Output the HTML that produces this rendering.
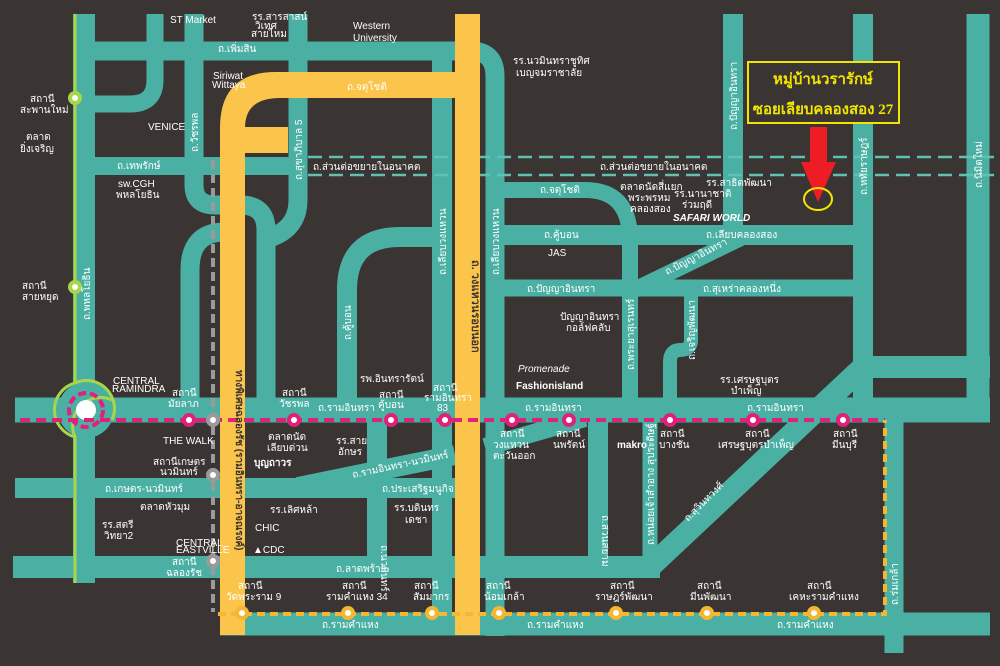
<!DOCTYPE html>
<html><head><meta charset="utf-8"><style>
html,body{margin:0;padding:0;background:#3a3432}
svg{display:block}
text{font-family:"Liberation Sans","Noto Sans CJK SC",sans-serif;fill:#fff;font-size:10px}
.v{writing-mode:initial}
</style></head><body>
<svg width="1000" height="666" viewBox="0 0 1000 666" xmlns="http://www.w3.org/2000/svg">
<rect width="1000" height="666" fill="#3a3432"/>
<g fill="none" stroke="#4bb0a4" stroke-linejoin="round">
 <!-- Phahon -->
 <line x1="84" y1="14" x2="84" y2="583" stroke-width="22"/>
 <!-- top left box -->
 <path d="M155 14 V80 Q155 104 130 104 H84" stroke-width="17"/>
 <!-- Phoemsin -->
 <path d="M95 51 H470 Q495 51 495 76 V636" stroke-width="19"/>
 <!-- Watcharapol -->
 <path d="M194 14 V185 Q194 205 215 205 H240 Q266 205 266 230 V410" stroke-width="19"/>
 <path d="M190 410 V270 Q190 232 225 232" stroke-width="19"/>
 <!-- Sukhapiban 5 -->
 <path d="M298 14 V200 Q298 232 262 240" stroke-width="19"/>
 <!-- Thepharak -->
 <line x1="90" y1="166" x2="298" y2="166" stroke-width="18"/>
 <!-- Liab wongwaen left -->
 <line x1="442" y1="60" x2="442" y2="634" stroke-width="20"/>
 <!-- Khubon curve -->
 <path d="M347 410 V290 Q347 237 400 237 H442" stroke-width="20"/>
 <!-- Ramintra -->
 <line x1="15" y1="410" x2="990" y2="410" stroke-width="25"/>
 <!-- Kaset-Nawamin -->
 <line x1="15" y1="488" x2="480" y2="488" stroke-width="20"/>
 <!-- Ladprao -->
 <line x1="13" y1="567" x2="660" y2="567" stroke-width="22"/>
 <!-- Suwinthawong diagonal -->
 <path d="M650 567 L863 367 H990" stroke-width="22"/>
 <!-- Ramkhamhaeng -->
 <line x1="220" y1="624" x2="990" y2="624" stroke-width="23"/>
 <!-- Romklao -->
 <line x1="894" y1="410" x2="894" y2="653" stroke-width="19"/>
 <!-- Nawamin vertical -->
 <line x1="377" y1="410" x2="377" y2="567" stroke-width="20"/>
 <!-- Ramintra-Nawamin diagonal -->
 <line x1="298" y1="487" x2="455" y2="455" stroke-width="20"/>
 <line x1="485" y1="447" x2="585" y2="418" stroke-width="18"/>
 <!-- Suan Siam, Noi Chao -->
 <line x1="598" y1="410" x2="598" y2="567" stroke-width="20"/>
 <line x1="650" y1="410" x2="650" y2="567" stroke-width="15"/>
 <!-- right top verticals -->
 <line x1="733" y1="14" x2="733" y2="235" stroke-width="20"/>
 <line x1="863" y1="14" x2="863" y2="410" stroke-width="20"/>
 <line x1="978" y1="14" x2="978" y2="410" stroke-width="23"/>
 <!-- Liab Khlong Song -->
 <line x1="495" y1="235" x2="873" y2="235" stroke-width="20"/>
 <!-- Chatuchot teal -->
 <path d="M495 190 H585 Q630 190 630 240 V410" stroke-width="16"/>
 <!-- Panya Intra -->
 <line x1="495" y1="288" x2="863" y2="288" stroke-width="17"/>
 <line x1="630" y1="292" x2="745" y2="236" stroke-width="16"/>
 <!-- Charoen Phatthana -->
 <path d="M691 288 V340 Q691 350 680 350 Q670 350 670 362 V410" stroke-width="14"/>
</g>
<!-- dashed future road -->
<g stroke="#5fc0b3" stroke-width="2.5" stroke-dasharray="14,7">
 <line x1="308" y1="157" x2="1000" y2="157"/>
 <line x1="308" y1="175" x2="1000" y2="175"/>
</g>
<!-- lime line on Phahon -->
<path d="M75 14 V383 A28 28 0 0 0 75 437 V583" fill="none" stroke="#a8d54a" stroke-width="3"/>
<circle cx="86" cy="410" r="28" fill="#4bb0a4"/>
<path d="M75 383 A28 28 0 0 1 112 420" fill="none" stroke="#a8d54a" stroke-width="3"/>
<path d="M112 400 A28 28 0 0 0 75 437" fill="none" stroke="#a8d54a" stroke-width="3"/>
<circle cx="86" cy="410" r="17" fill="none" stroke="#e0217b" stroke-width="4" stroke-dasharray="8,4"/>
<circle cx="86" cy="410" r="10" fill="#fff"/>
<!-- yellow expressways -->
<g fill="#fbc54b">
 <rect x="455" y="14" width="25" height="621"/>
 <path d="M220 635 V128 Q220 72 276 72 H480 V98 H280 Q245 98 245 128 V635 Z"/>
 <rect x="245" y="127" width="43" height="26"/>
</g>
<!-- grey dashed -->
<line x1="213" y1="160" x2="213" y2="612" stroke="#9a9a9a" stroke-width="4" stroke-dasharray="9,5"/>
<!-- pink line -->
<line x1="20" y1="420" x2="885" y2="420" stroke="#e0217b" stroke-width="4" stroke-dasharray="10,6"/>
<!-- orange line -->
<path d="M218 614 H885 V420" fill="none" stroke="#f5b731" stroke-width="4" stroke-dasharray="8,5"/>
<!-- stations -->
<g stroke="#e0217b" stroke-width="4" fill="#fff">
 <circle cx="189" cy="420" r="5"/><circle cx="294" cy="420" r="5"/><circle cx="391" cy="420" r="5"/><circle cx="445" cy="420" r="5"/><circle cx="512" cy="420" r="5"/><circle cx="569" cy="420" r="5"/><circle cx="670" cy="420" r="5"/><circle cx="753" cy="420" r="5"/><circle cx="843" cy="420" r="5"/>
</g>
<g stroke="#9a9a9a" stroke-width="4" fill="#fff"><circle cx="213" cy="420" r="5"/><circle cx="213" cy="475" r="5"/><circle cx="213" cy="561" r="5"/></g>
<g stroke="#a8d54a" stroke-width="4" fill="#fff"><circle cx="75" cy="98" r="5"/><circle cx="75" cy="287" r="5"/></g>
<g stroke="#f5b731" stroke-width="4" fill="#fff"><circle cx="242" cy="613" r="5"/><circle cx="348" cy="613" r="5"/><circle cx="432" cy="613" r="5"/><circle cx="499" cy="613" r="5"/><circle cx="616" cy="613" r="5"/><circle cx="707" cy="613" r="5"/><circle cx="814" cy="613" r="5"/></g>

<!-- target box & arrow -->
<rect x="748" y="62" width="151" height="61" fill="#3a3432" stroke="#f2e600" stroke-width="2"/>
<text x="823" y="84" text-anchor="middle" style="font-family:'Liberation Serif','Noto Serif CJK SC',serif;font-size:15px;font-weight:bold;fill:#f2e600">หมู่บ้านวรารักษ์</text>
<text x="823" y="114" text-anchor="middle" style="font-family:'Liberation Serif','Noto Serif CJK SC',serif;font-size:15px;font-weight:bold;fill:#f2e600">ซอยเลียบคลองสอง 27</text>
<rect x="810" y="127" width="17" height="37" fill="#ee1c25"/>
<polygon points="801,162 836,162 818,202" fill="#ee1c25"/>
<ellipse cx="818" cy="199" rx="14" ry="11" fill="none" stroke="#f2e600" stroke-width="2"/>

<!-- labels -->
<g>
<text x="170" y="23">ST Market</text>
<text x="252" y="20" font-size="8">รร.สารสาสน์</text>
<text x="255" y="29" font-size="8">วิเทศ</text>
<text x="251" y="37" font-size="8">สายไหม</text>
<text x="353" y="29">Western</text>
<text x="353" y="41">University</text>
<text x="218" y="52">ถ.เพิ่มสิน</text>
<text x="213" y="79" font-size="8">Siriwat</text>
<text x="212" y="88" font-size="8">Wittaya</text>
<text x="347" y="90">ถ.จตุโชติ</text>
<text x="30" y="102">สถานี</text>
<text x="20" y="113">สะพานใหม่</text>
<text x="26" y="140">ตลาด</text>
<text x="20" y="152">ยิ่งเจริญ</text>
<text x="148" y="130" font-size="8">VENICE</text>
<text x="117" y="169">ถ.เทพรักษ์</text>
<text x="118" y="187">sw.CGH</text>
<text x="116" y="198">พหลโยธิน</text>
<text x="313" y="170">ถ.ส่วนต่อขยายในอนาคต</text>
<text x="600" y="170">ถ.ส่วนต่อขยายในอนาคต</text>
<text x="513" y="64" font-size="9">รร.นวมินทราชูทิศ</text>
<text x="516" y="76" font-size="9">เบญจมราชาลัย</text>
<text x="540" y="193">ถ.จตุโชติ</text>
<text x="620" y="190" font-size="9">ตลาดนัดสี่แยก</text>
<text x="628" y="201" font-size="9">พระพรหม</text>
<text x="630" y="212" font-size="9">คลองสอง</text>
<text x="706" y="186" font-size="9">รร.สาธิตพัฒนา</text>
<text x="674" y="197" font-size="9">รร.นานาชาติ</text>
<text x="682" y="208" font-size="9">ร่วมฤดี</text>
<text x="673" y="221" font-size="8" font-weight="bold" font-style="italic">SAFARI WORLD</text>
<text x="544" y="238">ถ.คู้บอน</text>
<text x="706" y="238">ถ.เลียบคลองสอง</text>
<text x="548" y="256" font-size="9">JAS</text>
<text x="527" y="292">ถ.ปัญญาอินทรา</text>
<text x="703" y="292">ถ.สุเหร่าคลองหนึ่ง</text>
<text x="560" y="320" font-size="9">ปัญญาอินทรา</text>
<text x="566" y="331" font-size="9">กอล์ฟคลับ</text>
<text x="518" y="372" font-size="8" font-style="italic">Promenade</text>
<text x="516" y="389" font-weight="bold">Fashionisland</text>
<text x="720" y="383" font-size="9">รร.เศรษฐบุตร</text>
<text x="731" y="394" font-size="9">บำเพ็ญ</text>
<text x="22" y="289">สถานี</text>
<text x="22" y="300">สายหยุด</text>
<text x="113" y="384" font-size="7">CENTRAL</text>
<text x="112" y="392" font-size="7">RAMINDRA</text>
<text x="172" y="396">สถานี</text>
<text x="168" y="407">มัยลาภ</text>
<text x="282" y="396">สถานี</text>
<text x="279" y="407">วัชรพล</text>
<text x="318" y="411">ถ.รามอินทรา</text>
<text x="360" y="382">รพ.อินทรารัตน์</text>
<text x="379" y="398">สถานี</text>
<text x="378" y="408">คู้บอน</text>
<text x="433" y="391">สถานี</text>
<text x="424" y="401">รามอินทรา</text>
<text x="437" y="411">83</text>
<text x="525" y="411">ถ.รามอินทรา</text>
<text x="747" y="411">ถ.รามอินทรา</text>
<text x="500" y="437">สถานี</text>
<text x="493" y="448">วงแหวน</text>
<text x="493" y="459">ตะวันออก</text>
<text x="556" y="437">สถานี</text>
<text x="553" y="448">นพรัตน์</text>
<text x="660" y="437">สถานี</text>
<text x="659" y="448">บางชัน</text>
<text x="745" y="437">สถานี</text>
<text x="718" y="448">เศรษฐบุตรบำเพ็ญ</text>
<text x="833" y="437">สถานี</text>
<text x="832" y="448">มีนบุรี</text>
<text x="617" y="448" font-size="9" font-weight="bold">makro</text>
<text x="163" y="444" font-size="8">THE WALK</text>
<text x="153" y="465">สถานีเกษตร</text>
<text x="160" y="475">นวมินทร์</text>
<text x="268" y="440">ตลาดนัด</text>
<text x="267" y="451">เลียบด่วน</text>
<text x="254" y="466" font-weight="bold">บุญถาวร</text>
<text x="336" y="444">รร.สาย</text>
<text x="338" y="455">อักษร</text>
<text x="353" y="478" transform="rotate(-12 353 478)">ถ.รามอินทรา-นวมินทร์</text>
<text x="105" y="492">ถ.เกษตร-นวมินทร์</text>
<text x="382" y="492">ถ.ประเสริฐมนูกิจ</text>
<text x="140" y="510" font-size="9">ตลาดหัวมุม</text>
<text x="102" y="528">รร.สตรี</text>
<text x="104" y="539">วิทยา2</text>
<text x="176" y="546" font-size="7">CENTRAL</text>
<text x="176" y="553" font-size="7">EASTVILLE</text>
<text x="270" y="513">รร.เลิศหล้า</text>
<text x="255" y="531" font-size="12">CHIC</text>
<text x="253" y="553">▲CDC</text>
<text x="394" y="511">รร.บดินทร</text>
<text x="405" y="523">เดชา</text>
<text x="336" y="572">ถ.ลาดพร้าว</text>
<text x="172" y="565">สถานี</text>
<text x="166" y="576">ฉลองรัช</text>
<text x="238" y="589">สถานี</text>
<text x="226" y="600">วัดพระราม 9</text>
<text x="342" y="589">สถานี</text>
<text x="326" y="600">รามคำแหง 34</text>
<text x="414" y="589">สถานี</text>
<text x="413" y="600">สัมมากร</text>
<text x="486" y="589">สถานี</text>
<text x="484" y="600">น้อมเกล้า</text>
<text x="610" y="589">สถานี</text>
<text x="595" y="600">ราษฎร์พัฒนา</text>
<text x="697" y="589">สถานี</text>
<text x="690" y="600">มีนพัฒนา</text>
<text x="807" y="589">สถานี</text>
<text x="789" y="600">เคหะรามคำแหง</text>
<text x="322" y="628">ถ.รามคำแหง</text>
<text x="527" y="628">ถ.รามคำแหง</text>
<text x="777" y="628">ถ.รามคำแหง</text>
<text x="0" y="0" transform="translate(688 522) rotate(-45)">ถ.สุวินทวงศ์</text>
<!-- vertical labels -->
<text transform="translate(90 320) rotate(-90)">ถ.พหลโยธิน</text>
<text transform="translate(198 152) rotate(-90)">ถ.วัชรพล</text>
<text transform="translate(302 180) rotate(-90)">ถ.สุขาภิบาล 5</text>
<text transform="translate(236 370) rotate(90)" font-weight="bold" fill="#3a3432" style="fill:#3a3432">ทางพิเศษฉลองรัช (รามอินทรา-อาจณรงค์)</text>
<text transform="translate(472 260) rotate(90)" style="fill:#3a3432;font-weight:bold;font-size:11px">ถ. วงแหวนรอบนอก</text>
<text transform="translate(446 275) rotate(-90)">ถ.เลียบวงแหวน</text>
<text transform="translate(499 275) rotate(-90)">ถ.เลียบวงแหวน</text>
<text transform="translate(351 340) rotate(-90)">ถ.คู้บอน</text>
<text transform="translate(381 545) rotate(90)">ถ.นวมินทร์</text>
<text transform="translate(634 370) rotate(-90)">ถ.พระยาสุเรนทร์</text>
<text transform="translate(695 360) rotate(-90)">ถ.เจริญพัฒนา</text>
<text transform="translate(737 130) rotate(-90)">ถ.ปัญญาอินทรา</text>
<text transform="translate(867 195) rotate(-90)">ถ.หทัยราษฎร์</text>
<text transform="translate(982 188) rotate(-90)">ถ.นิมิตใหม่</text>
<text transform="translate(602 515) rotate(90)">ถ.สวนสยาม</text>
<text transform="translate(654 545) rotate(-90)" font-size="9">ถ.หน่อยเจ้าสำอาง สุประดิษฐ์</text>
<text transform="translate(898 605) rotate(-90)">ถ.ร่มเกล้า</text>
<text transform="translate(667 275) rotate(-27)">ถ.ปัญญาอินทรา</text>
</g>
</svg>
</body></html>
